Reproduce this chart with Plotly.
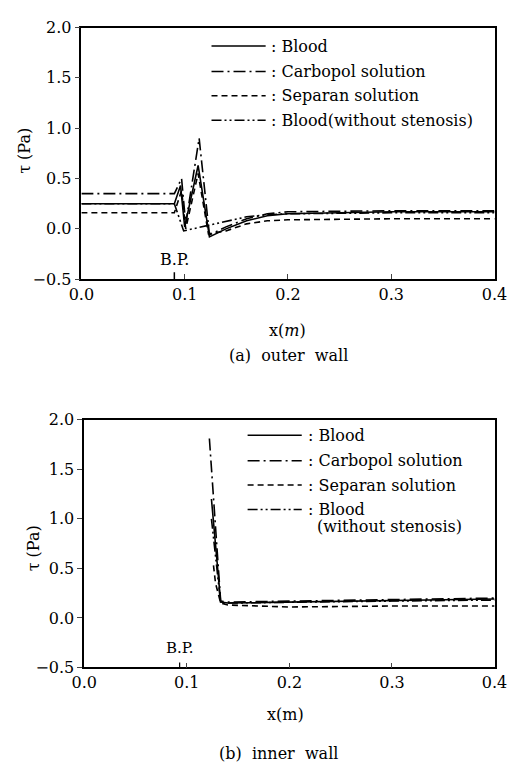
import plotly.graph_objects as go

# ---------------- data ----------------
series_names = ["Blood", "Carbopol solution", "Separan solution", "Blood(without stenosis)"]
legend_b_names = ["Blood", "Carbopol solution", "Separan solution", "Blood<br>(without stenosis)"]

# (a) outer wall
outer_blood_x = [0.0, 0.090, 0.096, 0.100, 0.113, 0.124, 0.140, 0.160, 0.180, 0.200, 0.250, 0.300, 0.400]
outer_blood_y = [0.25, 0.25, 0.43, 0.02, 0.63, -0.08, 0.00, 0.08, 0.13, 0.15, 0.16, 0.17, 0.17]
outer_carbo_x = [0.0, 0.090, 0.097, 0.101, 0.114, 0.124, 0.140, 0.160, 0.180, 0.200, 0.300, 0.400]
outer_carbo_y = [0.35, 0.35, 0.50, 0.05, 0.90, -0.06, 0.02, 0.10, 0.15, 0.17, 0.18, 0.18]
outer_sep_x = [0.0, 0.090, 0.097, 0.101, 0.113, 0.123, 0.140, 0.160, 0.180, 0.200, 0.300, 0.400]
outer_sep_y = [0.16, 0.16, 0.38, 0.00, 0.55, -0.05, -0.02, 0.05, 0.08, 0.09, 0.10, 0.10]
outer_nost_x = [0.0, 0.090, 0.099, 0.120, 0.140, 0.160, 0.180, 0.200, 0.300, 0.400]
outer_nost_y = [0.25, 0.25, -0.02, 0.03, 0.08, 0.12, 0.14, 0.15, 0.16, 0.16]

# (b) inner wall
inner_blood_x = [0.124, 0.133, 0.140, 0.200, 0.300, 0.400]
inner_blood_y = [1.20, 0.16, 0.15, 0.16, 0.18, 0.19]
inner_carbo_x = [0.122, 0.133, 0.140, 0.200, 0.300, 0.400]
inner_carbo_y = [1.81, 0.17, 0.16, 0.17, 0.19, 0.20]
inner_sep_x = [0.126, 0.128, 0.133, 0.140, 0.200, 0.300, 0.400]
inner_sep_y = [0.53, 0.35, 0.15, 0.13, 0.11, 0.12, 0.12]
inner_nost_x = [0.124, 0.133, 0.140, 0.200, 0.300, 0.400]
inner_nost_y = [1.00, 0.15, 0.15, 0.16, 0.17, 0.18]

bp_outer = 0.09
bp_inner = 0.093

x_ticks = [0.0, 0.1, 0.2, 0.3, 0.4]
y_ticks = [-0.5, 0.0, 0.5, 1.0, 1.5, 2.0]

# ---------------- styles ----------------
dashes = ["solid", "12px,4px,2px,4px", "6px,4px", "10px,3px,2px,3px,2px,3px"]
SERIF = "DejaVu Serif, Liberation Serif, serif"
W, H = 518, 775

fig = go.Figure()

outer = [(outer_blood_x, outer_blood_y), (outer_carbo_x, outer_carbo_y),
         (outer_sep_x, outer_sep_y), (outer_nost_x, outer_nost_y)]
inner = [(inner_blood_x, inner_blood_y), (inner_carbo_x, inner_carbo_y),
         (inner_sep_x, inner_sep_y), (inner_nost_x, inner_nost_y)]

for i, (xs, ys) in enumerate(outer):
    fig.add_trace(go.Scatter(x=xs, y=ys, mode="lines", name=series_names[i],
                             line=dict(color="black", width=1.6, dash=dashes[i]),
                             xaxis="x", yaxis="y", showlegend=False))
for i, (xs, ys) in enumerate(inner):
    fig.add_trace(go.Scatter(x=xs, y=ys, mode="lines", name=series_names[i],
                             line=dict(color="black", width=1.6, dash=dashes[i]),
                             xaxis="x2", yaxis="y2", showlegend=False))

def px_x(p):
    return p / W

def px_y(p):
    return 1 - p / H

axis_common = dict(showline=True, linecolor="black", linewidth=1.5, mirror=True,
                   showgrid=False, zeroline=False, ticklabeloverflow="allow",
                   tickfont=dict(family=SERIF, size=16, color="black"))

fig.update_layout(
    width=W, height=H, margin=dict(l=0, r=0, t=0, b=0),
    paper_bgcolor="white", plot_bgcolor="white",
    xaxis=dict(domain=[px_x(72), px_x(507)], range=[0, 0.4], anchor="y",
               tickvals=x_ticks, tickformat=".1f", ticks="inside", ticklen=5,
               **axis_common),
    yaxis=dict(domain=[px_y(277), px_y(19)], range=[-0.5, 2.0], anchor="x",
               tickvals=y_ticks, tickformat=".1f", ticks="outside", ticklen=5,
               **axis_common),
    xaxis2=dict(domain=[px_x(75), px_x(507)], range=[0, 0.4], anchor="y2",
                tickvals=x_ticks, tickformat=".1f", ticks="inside", ticklen=5,
                **axis_common),
    yaxis2=dict(domain=[px_y(675), px_y(421)], range=[-0.5, 2.0], anchor="x2",
                tickvals=y_ticks, tickformat=".1f", ticks="outside", ticklen=5,
                **axis_common),
)

ann = []
shapes = []

def text(x, y, s, size=16, angle=0, xanchor="center", yanchor="middle", xref="paper", yref="paper", yshift=0):
    ann.append(dict(x=x, y=y, xref=xref, yref=yref, text=s, showarrow=False,
                    textangle=angle, xanchor=xanchor, yanchor=yanchor, yshift=yshift,
                    font=dict(family=SERIF, size=size, color="black")))

# axis titles and captions
text(px_x(12), px_y(145), "τ (Pa)", angle=-90)
text(px_x(22), px_y(553), "τ (Pa)", angle=-90)
text(px_x(289), px_y(330), "x(<i>m</i>)")
text(px_x(287), px_y(723), "x(m)")
text(px_x(290), px_y(355), "(a)  outer  wall", size=16)
text(px_x(280), px_y(763), "(b)  inner  wall", size=16)

# B.P. markers
text(bp_outer, -0.5, "B.P.", xref="x", yref="y", yanchor="bottom", yshift=8)
text(bp_inner, -0.5, "B.P.", xref="x2", yref="y2", yanchor="bottom", yshift=8, size=15)
shapes.append(dict(type="line", xref="x", yref="y", x0=bp_outer, x1=bp_outer, y0=-0.5, y1=-0.43,
                   line=dict(color="black", width=1.5)))
shapes.append(dict(type="line", xref="x2", yref="y2", x0=bp_inner, x1=bp_inner, y0=-0.5, y1=-0.45,
                   line=dict(color="black", width=1.2)))

# manual legends
def legend(x0, x1, tx, rows_y, labels):
    for i, (ry, lab) in enumerate(zip(rows_y, labels)):
        shapes.append(dict(type="line", xref="paper", yref="paper",
                           x0=px_x(x0), x1=px_x(x1), y0=px_y(ry), y1=px_y(ry),
                           line=dict(color="black", width=1.5, dash=dashes[i])))
        parts = lab.split("<br>")
        text(px_x(tx), px_y(ry), ": " + parts[0], xanchor="left")
        if len(parts) > 1:
            text(px_x(tx + 10), px_y(ry + 18), parts[1], xanchor="left")

legend(209, 266, 270, [38, 64, 89, 114], series_names)
legend(247, 304, 308, [437, 463, 488, 513], legend_b_names)

fig.update_layout(annotations=ann, shapes=shapes)
fig.write_html("out.html", config={"displayModeBar": False},
               post_script="document.body.style.margin='0';document.body.style.overflow='hidden';")
